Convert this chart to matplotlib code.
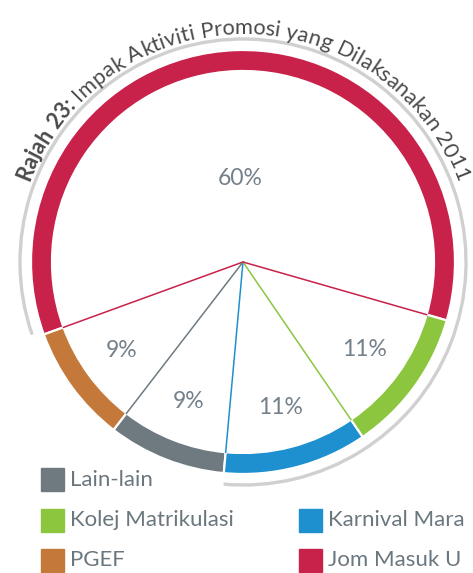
import numpy as np
import matplotlib.pyplot as plt
import matplotlib.patches as patches
from matplotlib.font_manager import FontProperties
from matplotlib.textpath import TextPath

FAMILY = ['Lato', 'DejaVu Sans']
plt.rcParams['font.family'] = FAMILY

# data, counterclockwise from the green/red boundary
labels = ["Jom Masuk U", "PGEF", "Lain-lain", "Karnival Mara", "Kolej Matrikulasi"]
values = [60, 9, 9, 11, 11]
pct_text = ["60%", "9%", "9%", "11%", "11%"]
colors = ["#c8214a", "#c4783a", "#6f7a80", "#1e90d0", "#8cc63f"]
# spoke colour at the end boundary of each wedge (red/orange, orange/gray, ...)
spoke_colors = ["#c8214a", "#6f7a80", "#1e90d0", "#8cc63f", "#c8214a"]

W, H = 473, 573
fig = plt.figure(figsize=(W / 100, H / 100), dpi=100)
ax = fig.add_axes([0, 0, 1, 1])

CX, CY = 243, 311
R_OUT = 212
RING = 21
START = -16

ax.pie(values, colors=colors, startangle=START, counterclock=True,
       radius=R_OUT, center=(CX, CY), frame=True,
       wedgeprops=dict(width=RING, edgecolor='white', linewidth=1.6))
ax.set_xlim(0, W)
ax.set_ylim(0, H)
ax.set_aspect('equal')
ax.axis('off')

# thin grey arc outside the ring
ax.add_patch(patches.Arc((CX, CY), 2 * 223, 2 * 223, theta1=-95, theta2=199,
                         color='#d0d0d0', lw=2.4))

# spokes and percent labels
bounds = START + 360 * np.cumsum([0] + values) / sum(values)
r_in = R_OUT - RING
for i in range(len(values)):
    a = np.radians(bounds[i + 1])
    ax.plot([CX, CX + r_in * np.cos(a)], [CY, CY + r_in * np.sin(a)],
            color=spoke_colors[i], lw=1.1, zorder=3)
    mid = np.radians((bounds[i] + bounds[i + 1]) / 2)
    rr = 84 if values[i] > 50 else 150
    ax.text(CX + rr * np.cos(mid), CY + rr * np.sin(mid), pct_text[i],
            ha='center', va='center', fontsize=16.5, color='#74808a')

# curved title, one character at a time along an arc
parts = [("Rajah 23:", 'bold'), (" Impak Aktiviti Promosi yang Dilaksanakan 2011", 'normal')]
R_TXT = 228
span_target = np.radians(138.5) * R_TXT

def ink(s, prop, size):
    ext = TextPath((0, 0), s, size=size, prop=prop).get_extents()
    return ext.x0, ext.x1

def layout(size):
    out = []
    start = 0.0
    for s, wt in parts:
        prop = FontProperties(family=FAMILY, weight=wt)
        for k, ch in enumerate(s):
            if ch == ' ':
                continue
            x0c, x1c = ink(ch, prop, size)
            pen = ink(s[:k + 1], prop, size)[1] - x1c
            out.append((ch, wt, start + pen + (x0c + x1c) / 2,
                        start + pen + x0c, start + pen + x1c))
        start += ink(s + "|", prop, size)[1] - ink("|", prop, size)[1]
    left = out[0][3]
    length = out[-1][4] - left
    return [(c, w, m - left) for c, w, m, _, _ in out], length

size_px = 18.0
chars, L = layout(size_px)
size_px *= span_target / L
chars, L = layout(size_px)
fs = size_px * 72 / 100
a0 = np.pi / 2 + (L / 2) / R_TXT
for ch, wt, d in chars:
    a = a0 - d / R_TXT
    ax.text(CX + R_TXT * np.cos(a), CY + R_TXT * np.sin(a), ch,
            rotation=np.degrees(a) - 90, rotation_mode='anchor',
            ha='center', va='baseline', fontsize=fs, fontweight=wt,
            color='#4a4a4a')

# legend
leg = [("Lain-lain", 41, 93.5), ("Kolej Matrikulasi", 41, 52.5), ("PGEF", 41, 12.5),
       ("Karnival Mara", 299, 52.5), ("Jom Masuk U", 299, 12.5)]
for name, x, y in leg:
    c = colors[labels.index(name)]
    ax.add_patch(patches.Rectangle((x, y - 11.5), 23, 23, color=c))
    ax.text(x + 29, y, name, ha='left', va='center', fontsize=16, color='#6b777e')

fig.savefig("out.png", dpi=100)
